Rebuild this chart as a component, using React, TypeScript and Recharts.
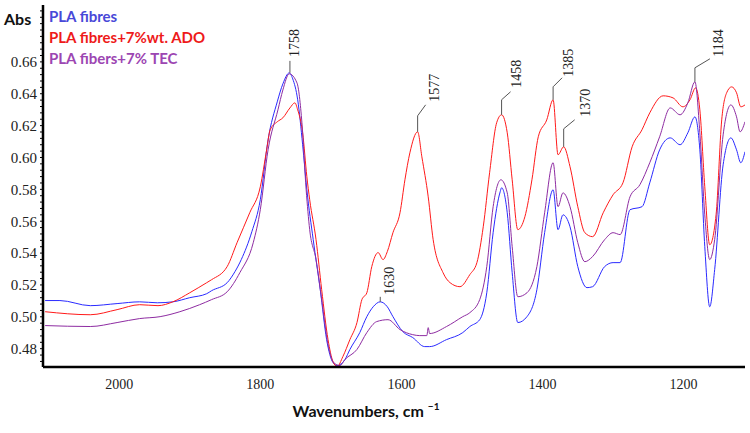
import React from 'react';
import { LineChart, Line, XAxis, YAxis, ReferenceDot, Legend } from 'recharts';

// ---- Data (wavenumber, cm^-1  /  absorbance) ----
const wnBlue = [2105, 2084, 2041, 2003, 1971, 1946, 1924, 1900, 1876, 1869, 1847, 1836, 1827, 1812, 1800, 1789, 1776, 1768, 1759, 1754, 1747, 1740, 1734, 1725, 1715, 1706, 1697, 1691, 1687, 1680, 1673, 1659, 1649, 1640, 1630, 1620, 1612, 1598, 1584, 1567, 1560, 1536, 1513, 1503, 1489, 1479, 1470, 1460, 1458, 1450, 1443, 1435, 1422, 1408, 1397, 1385, 1378, 1371, 1361, 1350, 1337, 1329, 1312, 1300, 1290, 1276, 1259, 1248, 1234, 1219, 1205, 1194, 1184, 1177, 1170, 1163, 1156, 1144, 1133, 1125, 1119, 1113];
const absBlue = [0.5102, 0.5102, 0.5070, 0.5083, 0.5094, 0.5088, 0.5094, 0.5120, 0.5145, 0.5164, 0.5214, 0.5283, 0.5359, 0.5534, 0.5735, 0.6111, 0.6349, 0.6462, 0.6531, 0.6493, 0.6362, 0.6080, 0.5797, 0.5484, 0.5170, 0.4857, 0.4713, 0.4694, 0.4700, 0.4732, 0.4795, 0.4901, 0.5001, 0.5063, 0.5094, 0.5063, 0.5001, 0.4907, 0.4870, 0.4813, 0.4813, 0.4857, 0.4901, 0.4939, 0.4982, 0.5151, 0.5528, 0.5785, 0.5810, 0.5653, 0.5277, 0.4964, 0.5001, 0.5170, 0.5528, 0.5797, 0.5547, 0.5640, 0.5565, 0.5315, 0.5183, 0.5189, 0.5315, 0.5340, 0.5340, 0.5672, 0.5691, 0.5841, 0.6048, 0.6123, 0.6080, 0.6155, 0.6255, 0.6048, 0.5440, 0.5063, 0.5296, 0.5954, 0.6123, 0.6048, 0.5967, 0.6036];

const wnRed = [2105, 2041, 2003, 1971, 1945, 1924, 1900, 1876, 1869, 1847, 1833, 1815, 1800, 1791, 1786, 1776, 1768, 1758, 1751, 1747, 1740, 1734, 1730, 1721, 1713, 1704, 1697, 1691, 1683, 1673, 1663, 1656, 1649, 1642, 1633, 1626, 1620, 1612, 1602, 1595, 1588, 1577, 1571, 1562, 1555, 1541, 1531, 1517, 1503, 1493, 1484, 1475, 1465, 1458, 1450, 1443, 1435, 1425, 1415, 1406, 1394, 1385, 1378, 1370, 1361, 1350, 1340, 1329, 1314, 1300, 1286, 1273, 1259, 1248, 1229, 1215, 1201, 1191, 1183, 1177, 1170, 1163, 1154, 1146, 1139, 1132, 1125, 1119, 1113];
const absRed = [0.5032, 0.5013, 0.5045, 0.5076, 0.5070, 0.5094, 0.5151, 0.5214, 0.5233, 0.5315, 0.5465, 0.5653, 0.5816, 0.6048, 0.6174, 0.6224, 0.6249, 0.6311, 0.6343, 0.6299, 0.6155, 0.5879, 0.5735, 0.5484, 0.5170, 0.4857, 0.4719, 0.4688, 0.4750, 0.4857, 0.4964, 0.5108, 0.5151, 0.5315, 0.5403, 0.5359, 0.5409, 0.5528, 0.5653, 0.5860, 0.6029, 0.6161, 0.6004, 0.5753, 0.5484, 0.5277, 0.5214, 0.5189, 0.5265, 0.5340, 0.5565, 0.5904, 0.6218, 0.6268, 0.6155, 0.5860, 0.5547, 0.5628, 0.5860, 0.6130, 0.6236, 0.6362, 0.6017, 0.6067, 0.5942, 0.5691, 0.5528, 0.5503, 0.5653, 0.5766, 0.5841, 0.6067, 0.6174, 0.6280, 0.6387, 0.6374, 0.6318, 0.6362, 0.6437, 0.6299, 0.5816, 0.5452, 0.5640, 0.6236, 0.6406, 0.6443, 0.6406, 0.6318, 0.6330];

const wnPurple = [2105, 2041, 2003, 1971, 1942, 1914, 1886, 1869, 1847, 1829, 1810, 1800, 1789, 1775, 1768, 1759, 1748, 1741, 1735, 1730, 1721, 1713, 1704, 1696, 1687, 1680, 1663, 1649, 1635, 1619, 1602, 1584, 1574, 1564, 1562, 1560, 1536, 1513, 1503, 1489, 1479, 1470, 1459, 1450, 1443, 1435, 1422, 1408, 1397, 1385, 1378, 1371, 1361, 1350, 1340, 1329, 1312, 1300, 1290, 1276, 1262, 1248, 1234, 1219, 1205, 1194, 1184, 1177, 1170, 1163, 1156, 1144, 1133, 1125, 1120, 1113];
const absPurple = [0.4945, 0.4939, 0.4964, 0.4989, 0.5001, 0.5032, 0.5076, 0.5108, 0.5157, 0.5277, 0.5465, 0.5672, 0.6048, 0.6299, 0.6424, 0.6525, 0.6468, 0.6218, 0.5797, 0.5547, 0.5359, 0.5108, 0.4826, 0.4713, 0.4694, 0.4732, 0.4795, 0.4901, 0.4970, 0.4982, 0.4920, 0.4888, 0.4882, 0.4882, 0.4932, 0.4895, 0.4939, 0.5001, 0.5026, 0.5108, 0.5315, 0.5691, 0.5860, 0.5778, 0.5440, 0.5126, 0.5151, 0.5315, 0.5653, 0.5967, 0.5691, 0.5778, 0.5691, 0.5465, 0.5346, 0.5378, 0.5484, 0.5528, 0.5516, 0.5753, 0.5829, 0.5967, 0.6130, 0.6311, 0.6268, 0.6343, 0.6475, 0.6155, 0.5640, 0.5359, 0.5484, 0.6142, 0.6330, 0.6255, 0.6161, 0.6224];

const seriesNames = ['PLA fibres', 'PLA fibres+7%wt. ADO', 'PLA fibers+7% TEC'];

const xTicks = [2000, 1800, 1600, 1400, 1200];
const yTicks = [0.48, 0.5, 0.52, 0.54, 0.56, 0.58, 0.6, 0.62, 0.64, 0.66];
const yMinorTicks = [
  0.472, 0.476, 0.48, 0.484, 0.488, 0.492, 0.496, 0.5, 0.504, 0.508, 0.512, 0.516, 0.52, 0.524, 0.528, 0.532,
  0.536, 0.54, 0.544, 0.548, 0.552, 0.556, 0.56, 0.564, 0.568, 0.572, 0.576, 0.58, 0.584, 0.588, 0.592, 0.596,
  0.6, 0.604, 0.608, 0.612, 0.616, 0.62, 0.624, 0.628, 0.632, 0.636, 0.64, 0.644, 0.648, 0.652, 0.656, 0.66,
  0.664, 0.668, 0.672, 0.676, 0.68, 0.684, 0.688, 0.692,
];

const peakLabels = ['1758', '1630', '1577', '1458', '1385', '1370', '1184'];
const peakWn = [1758, 1630, 1577, 1458, 1385, 1370, 1184];
const peakAbs = [0.6531, 0.5094, 0.6161, 0.6268, 0.6362, 0.6067, 0.6475];

// ---- Styles ----
const lineColors = ['#2a2aff', '#ff1a1a', '#8e2ca2'];
const legendColors = ['#4848d8', '#ee1a1a', '#9c46b2'];
// leader geometry: vertical rise v, diagonal (dx, dy), text anchor offset (tx, ty)
const leaderStyle: Record<string, { v: number; dx: number; dy: number; tx: number; ty: number }> = {
  '1758': { v: 12, dx: 0, dy: 0, tx: 5, ty: -16 },
  '1630': { v: 5, dx: 0, dy: 0, tx: 9, ty: -7 },
  '1577': { v: 16, dx: 8, dy: -11, tx: 17, ty: -30 },
  '1458': { v: 15, dx: 9, dy: -8, tx: 15, ty: -27 },
  '1385': { v: 13, dx: 9, dy: -9, tx: 15, ty: -23 },
  '1370': { v: 18, dx: 11, dy: -9, tx: 22, ty: -30 },
  '1184': { v: 14, dx: 15, dy: -9, tx: 24, ty: -25 },
};

const toData = (wn: number[], ab: number[]) => wn.map((w, i) => ({ wn: w, abs: ab[i] }));
const blueData = toData(wnBlue, absBlue);
const redData = toData(wnRed, absRed);
const purpleData = toData(wnPurple, absPurple);

const serif = '"Liberation Serif", "Times New Roman", serif';
const sans = 'Lato, "Open Sans", sans-serif';

const isMajor = (v: number) => yTicks.some((t) => Math.abs(t - v) < 1e-6);

const PeakShape = (label: string) => (props: any) => {
  const { cx, cy } = props;
  const s = leaderStyle[label];
  const pts = [
    [cx, cy],
    [cx, cy - s.v],
    [cx + s.dx, cy - s.v + s.dy],
  ];
  const tx = cx + s.tx;
  const ty = cy + s.ty;
  return (
    <g>
      <polyline points={pts.map((p) => p.join(',')).join(' ')} fill="none" stroke="#555" strokeWidth={1} />
      <text
        x={tx}
        y={ty}
        transform={`rotate(-90 ${tx} ${ty})`}
        textAnchor="start"
        dominantBaseline="central"
        fontFamily={serif}
        fontSize={14}
        fill="#222"
      >
        {label}
      </text>
    </g>
  );
};

const LegendContent = () => (
  <div style={{ fontFamily: sans, fontWeight: 700, fontSize: 15, lineHeight: '21px', whiteSpace: 'nowrap' }}>
    {seriesNames.map((n, i) => (
      <div key={n} style={{ color: legendColors[i] }}>{n}</div>
    ))}
  </div>
);

export default function App() {
  return (
    <div style={{ position: 'absolute', left: 0, top: 0, background: '#fff' }}>
      <LineChart width={750} height={433} margin={{ top: 5, right: 5, bottom: 0, left: 0 }}>
        <XAxis
          dataKey="wn"
          type="number"
          domain={[1113, 2108]}
          reversed
          allowDataOverflow
          ticks={xTicks}
          tickLine={false}
          axisLine={{ stroke: '#000', strokeWidth: 2.5 }}
          tick={{ fontFamily: serif, fontSize: 14, fill: '#222' }}
          tickMargin={6}
          height={66}
          label={{
            content: () => (
              <text x={366} y={417} textAnchor="middle" fontFamily={sans} fontWeight={700} fontSize={16} fill="#111">
                Wavenumbers, cm
                <tspan dx={4} dy={-7} fontSize={10}>−1</tspan>
              </text>
            ),
          }}
        />
        <YAxis
          type="number"
          domain={[0.4685, 0.6957]}
          allowDataOverflow
          ticks={yMinorTicks}
          interval={0}
          tickFormatter={(v: number) => (isMajor(v) ? v.toFixed(2) : '')}
          width={43}
          tickSize={3}
          tickMargin={3}
          axisLine={{ stroke: '#000', strokeWidth: 2.5 }}
          tickLine={{ stroke: '#000' }}
          tick={{ fontFamily: serif, fontSize: 15, fill: '#222' }}
          label={{
            content: () => (
              <text x={4} y={25} fontFamily={sans} fontWeight={700} fontSize={16} fill="#111">
                Abs
              </text>
            ),
          }}
        />
        <Legend
          content={LegendContent}
          layout="vertical"
          verticalAlign="middle"
          align="center"
          wrapperStyle={{ position: 'absolute', left: 49, top: 6, width: 'auto', height: 'auto' }}
        />
        <Line data={blueData} dataKey="abs" name={seriesNames[0]} type="monotone" stroke={lineColors[0]} strokeWidth={1} dot={false} isAnimationActive={false} />
        <Line data={redData} dataKey="abs" name={seriesNames[1]} type="monotone" stroke={lineColors[1]} strokeWidth={1} dot={false} isAnimationActive={false} />
        <Line data={purpleData} dataKey="abs" name={seriesNames[2]} type="monotone" stroke={lineColors[2]} strokeWidth={1} dot={false} isAnimationActive={false} />
        {peakLabels.map((l, i) => (
          <ReferenceDot key={l} x={peakWn[i]} y={peakAbs[i]} r={0} shape={PeakShape(l)} />
        ))}
      </LineChart>
    </div>
  );
}
